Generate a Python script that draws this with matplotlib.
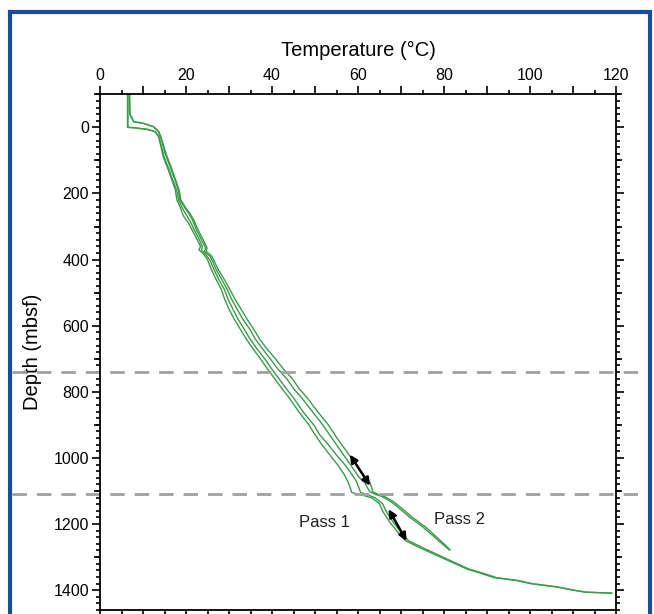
import numpy as np
import matplotlib
matplotlib.use("Agg")
import matplotlib.pyplot as plt
from matplotlib.patches import Rectangle
from matplotlib.ticker import MultipleLocator, FuncFormatter, NullFormatter
import matplotlib.transforms as mtransforms

plt.rcParams['font.family'] = ['Liberation Sans', 'DejaVu Sans']

# ---- data ----
# Pass 1 (two logs)
p1_depth = [-100, -20, 0, 1, 6, 13, 28, 48, 89, 129, 159, 189, 220, 240, 255, 270, 290,
            310, 340, 360, 370, 385, 400, 430, 460, 490, 520, 550, 580, 610, 640, 670,
            700, 730, 760, 790, 820, 860, 900, 930, 960, 990, 1020, 1050, 1070, 1090,
            1104, 1108, 1113, 1121, 1138, 1163, 1198, 1230, 1250, 1273, 1293, 1313,
            1336, 1350, 1362, 1371, 1380, 1390, 1400, 1406, 1409]
p1a_temp = [6.4, 6.4, 6.4, 7.7, 10.9, 12.8, 13.6, 14.0, 14.7, 15.9, 16.7, 17.5, 17.9,
            18.6, 19.0, 19.5, 20.6, 21.4, 22.6, 23.4, 23.0, 24.2, 25.0, 25.9, 27.0,
            28.2, 29.0, 30.0, 31.2, 32.6, 34.0, 35.6, 37.3, 38.9, 40.6, 42.3, 44.1,
            46.2, 48.6, 50.0, 51.6, 53.4, 55.2, 56.8, 57.6, 58.2, 58.5, 59.5, 61.2,
            63.2, 65.0, 65.8, 67.6, 69.6, 71.0, 74.6, 78.0, 81.4, 85.3, 88.8, 91.6,
            97.0, 100.0, 106.0, 110.0, 112.8, 119.0]
p1b_temp = [6.5, 6.5, 6.5, 7.8, 11.0, 12.9, 13.7, 14.1, 14.9, 16.1, 16.9, 17.8, 18.3,
            19.0, 19.6, 20.3, 21.2, 21.9, 23.1, 23.8, 23.6, 24.6, 25.5, 26.5, 27.6,
            28.9, 29.8, 30.9, 32.1, 33.5, 34.9, 36.5, 38.3, 39.9, 41.6, 43.3, 45.1,
            47.2, 49.7, 51.1, 53.1, 54.9, 56.9, 58.6, 59.6, 60.2, 60.6, 61.4, 62.6,
            64.0, 65.7, 66.6, 68.4, 70.3, 71.7, 75.3, 78.6, 81.9, 85.8, 89.4, 92.2,
            97.4, 100.4, 106.3, 110.3, 113.0, 119.0]

# Pass 2 (two logs)
p2_depth = [-100, -40, -17, -12, -2, 13, 38, 78, 119, 159, 189, 219, 245, 260, 280,
            310, 340, 365, 375, 390, 400, 430, 460, 490, 520, 550, 580, 610, 640, 670,
            700, 730, 760, 790, 820, 860, 900, 930, 960, 990, 1020, 1050, 1062, 1075,
            1090, 1102, 1110, 1117, 1130, 1143, 1160, 1178, 1208, 1243, 1260, 1278]
p2a_temp = [6.8, 6.9, 7.8, 10.1, 12.4, 13.6, 14.3, 15.1, 16.3, 17.4, 18.2, 18.6, 19.8,
            20.6, 21.5, 22.4, 23.6, 24.6, 24.3, 25.6, 26.0, 27.0, 28.3, 29.6, 30.6,
            31.9, 33.2, 34.8, 36.1, 37.8, 39.6, 41.3, 43.4, 45.0, 47.0, 49.4, 51.8,
            53.4, 55.0, 56.6, 58.2, 59.8, 60.5, 61.6, 62.2, 62.7, 64.0, 65.6, 67.4,
            68.7, 70.3, 71.9, 75.0, 78.1, 79.6, 81.2]
p2b_temp = [6.9, 7.0, 7.9, 10.2, 12.5, 13.7, 14.4, 15.3, 16.5, 17.6, 18.4, 18.8, 20.0,
            20.9, 21.8, 22.8, 24.0, 24.9, 24.7, 26.0, 26.4, 27.5, 28.9, 30.2, 31.4,
            32.8, 34.2, 35.7, 37.1, 38.8, 40.8, 42.6, 44.7, 46.3, 48.3, 50.6, 53.1,
            54.6, 56.2, 57.9, 59.6, 61.2, 62.0, 62.8, 63.2, 63.4, 64.6, 66.2, 68.0,
            69.3, 70.9, 72.5, 75.6, 78.6, 80.0, 81.4]

boundary_depths = [740, 1110]
pass_labels = ["Pass 1", "Pass 2"]
label_pos_T = [52.3, 83.5]
label_pos_D = [1195, 1186]
arrow_starts = [(58.1, 990), (67.1, 1155)]
arrow_ends = [(62.8, 1084), (71.3, 1251)]

green = '#3c9a4b'
W, H = 654, 614

fig = plt.figure(figsize=(W / 100, H / 100), dpi=100)
ax = fig.add_axes([100 / W, 1 - 610 / H, 516 / W, (610 - 94.3) / H])

for T in (p1a_temp, p1b_temp):
    ax.plot(T, p1_depth, color=green, lw=1.0)
for T in (p2a_temp, p2b_temp):
    ax.plot(T, p2_depth, color=green, lw=1.0)

# dashed boundaries running across the whole panel
trans = mtransforms.blended_transform_factory(ax.transAxes, ax.transData)
for d in boundary_depths:
    ax.plot([-0.17, 1.05], [d, d], transform=trans, clip_on=False,
            color='#a0a0a0', lw=2.0, linestyle=(0, (5.2, 3.6)))

for s, e in zip(arrow_starts, arrow_ends):
    ax.annotate('', xy=e, xytext=s,
                arrowprops=dict(arrowstyle='<|-|>,head_length=0.45,head_width=0.22',
                                color='black', lw=1.8, shrinkA=0, shrinkB=0))

for lab, t, d in zip(pass_labels, label_pos_T, label_pos_D):
    ax.text(t, d, lab, fontsize=12, ha='center', va='center', color='#222222')

ax.set_xlim(0, 120)
ax.set_ylim(1460, -100)

ax.xaxis.set_major_locator(MultipleLocator(10))
ax.xaxis.set_minor_locator(MultipleLocator(5))
ax.xaxis.set_major_formatter(FuncFormatter(lambda v, p: f"{v:.0f}" if v % 20 == 0 else ""))
ax.yaxis.set_major_locator(MultipleLocator(200))
ax.yaxis.set_minor_locator(MultipleLocator(20))

ax.tick_params(which='both', direction='out', top=True, bottom=True, left=True, right=True,
               labeltop=True, labelbottom=False, labelleft=True, labelright=False,
               width=1.2, labelsize=11.5, pad=2)
ax.tick_params(which='major', length=6)
ax.tick_params(which='minor', length=2.8)
for sp in ax.spines.values():
    sp.set_linewidth(1.3)

# medium ticks at the odd hundreds
for side in ('left', 'right'):
    sec = ax.secondary_yaxis(side)
    sec.set_yticks(list(range(-100, 1500, 200)))
    sec.yaxis.set_major_formatter(NullFormatter())
    sec.tick_params(direction='out', length=4.3, width=1.2)
    sec.spines[side].set_visible(False)

ax.xaxis.set_label_position('top')
ax.set_xlabel('Temperature (°C)', fontsize=14.5, labelpad=9)
ax.set_ylabel('Depth (mbsf)', fontsize=14.5, labelpad=8)

# blue frame around the figure
fig.add_artist(Rectangle((10 / W, -0.1), 640 / W, 1.1 - 12 / H, transform=fig.transFigure,
                         fill=False, edgecolor='#1c4a9c', lw=3.0))

fig.savefig('out.png', dpi=100)
